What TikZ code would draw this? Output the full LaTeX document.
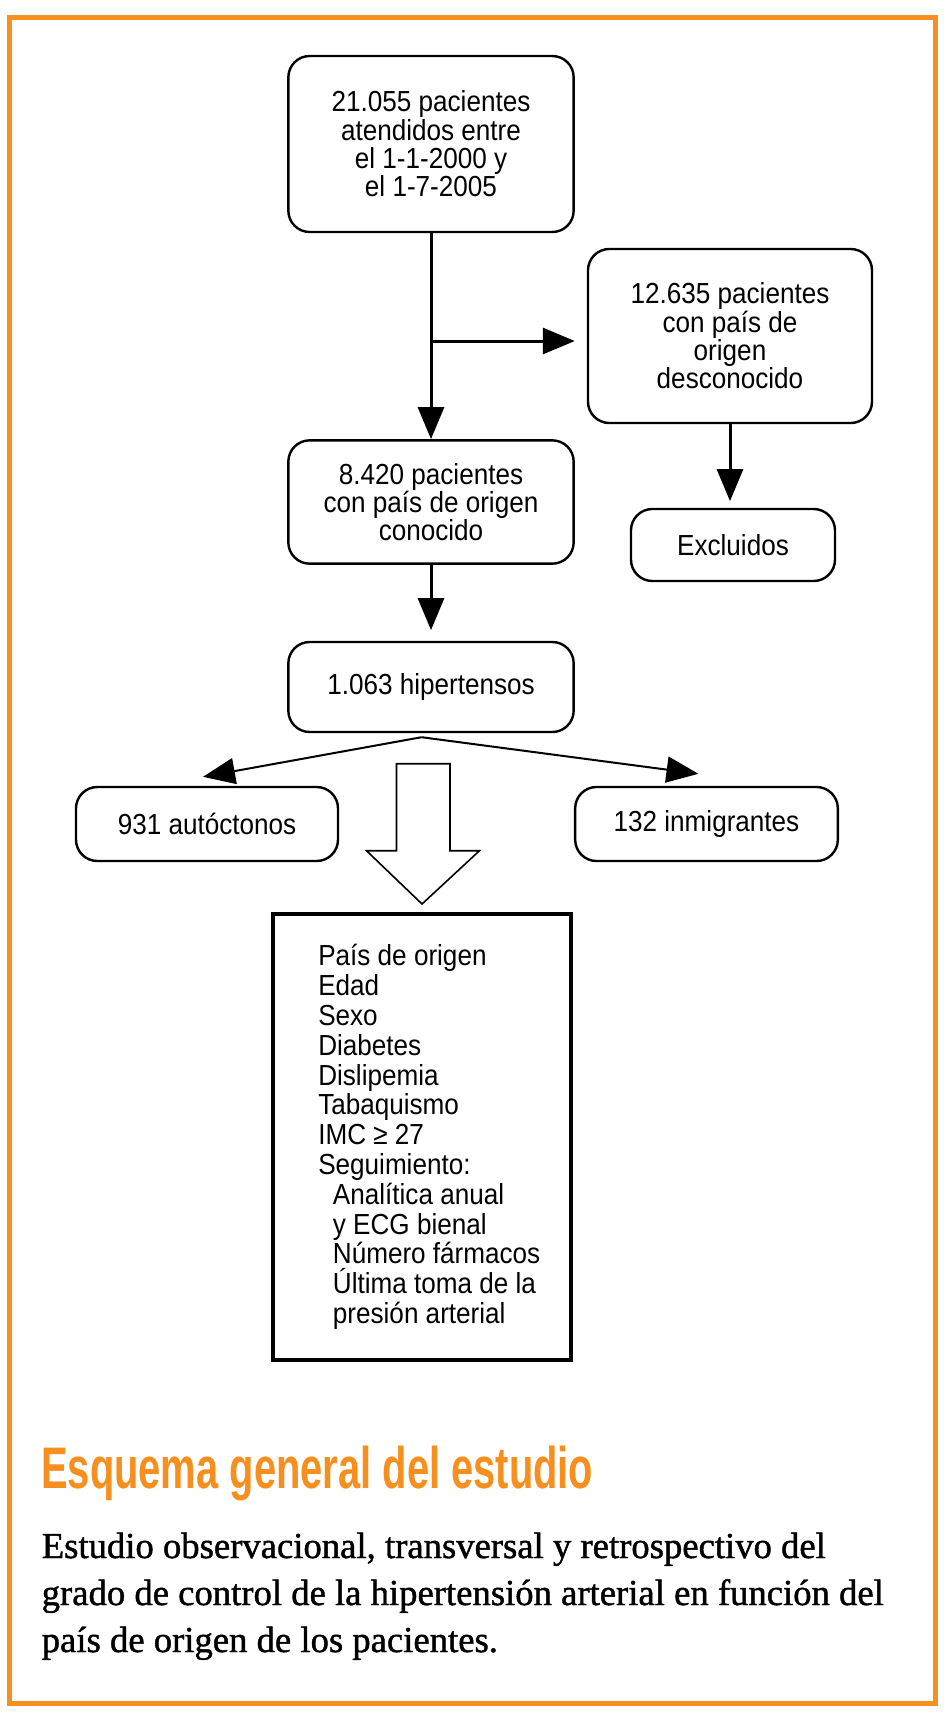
\documentclass[tikz,border=0pt]{standalone}
\usepackage{fontspec}
\setmainfont{Liberation Sans}
\newfontfamily\boxfont{Liberation Sans}[FakeStretch=0.9]
\newfontfamily\headfont{Liberation Sans}[FakeStretch=0.68]
\newfontfamily\notefont{Liberation Serif}[FakeBold=1.2]
\usetikzlibrary{arrows.meta,calc,positioning}
\definecolor{fraorange}{RGB}{247,143,30}

\begin{document}
\begin{tikzpicture}[x=0.75pt, y=-0.75pt, >={Triangle[length=24pt, width=19.5pt]},
    stage/.style={draw, line width=1.8pt, rounded corners=16pt, align=center, inner sep=0pt,
                  font=\boxfont\fontsize{21.75pt}{21.2pt}\selectfont},
    flow/.style={->, line width=2.25pt},
    split/.style={->, line width=1.5pt},
    hollow/.style={draw, fill=white, line width=1.2pt, line join=miter}]
  \useasboundingbox (0,0) rectangle (949,1714);
  \draw[fraorange, line width=3.75pt] (9.5,17.5) rectangle (935.5,1703);
  % cohort and selection
  \node[stage, minimum width=214pt, minimum height=132pt] (total) at (431,144)
       {21.055 pacientes\\ atendidos entre\\ el 1-1-2000 y\\ el 1-7-2005};
  \node[stage, minimum width=213pt, minimum height=130.5pt] (unknown) at (730,336)
       {12.635 pacientes\\ con país de\\ origen\\ desconocido};
  \node[stage, minimum width=214pt, minimum height=92.5pt] (known) at (431,502)
       {8.420 pacientes\\ con país de origen\\ conocido};
  \node[stage, minimum width=153pt, minimum height=54pt] (excl) at (733,545) {Excluidos};
  \node[stage, minimum width=214pt, minimum height=67.5pt] (hta) at (431,687) {1.063 hipertensos};
  \node[stage, minimum width=196.5pt, minimum height=55.5pt] (native) at (207,824) {931 autóctonos};
  \node[stage, minimum width=197pt, minimum height=55.5pt] (migrant) at (706.5,824) {132 inmigrantes};
  \draw[flow] (total) -- (known);
  \coordinate (branch) at (431,341);
  \draw[flow, shorten >=9pt] (branch) -- (branch -| unknown.west);
  \draw[flow, shorten >=5pt] (unknown.south) -- (unknown.south |- excl.north);
  \draw[flow, shorten >=8pt] (known) -- (hta);
  % split by origin
  \coordinate (fork) at ($(hta.south)+(-9.5,4)$);
  \draw[split] (fork) -- ($(native.north)+(-4,-9)$);
  \draw[split] (fork) -- ($(migrant.north)+(-8,-12)$);
  % variables
  \node[draw, line width=3pt, minimum width=223.5pt, minimum height=334.5pt] (vars) at (422,1137) {};
  \draw[hollow] ($(vars.north)+(0,-8)$) -- ++(-55.5,-53.3) -- ++(30,0) -- ++(0,-87)
       -- ++(53.5,0) -- ++(0,87) -- ++(29.5,0) -- cycle;
  \node[font=\boxfont\fontsize{21.75pt}{22.35pt}\selectfont, align=left, anchor=base west,
        inner sep=0pt] (varlist) at (318,1323.5)
       {País de origen\\ Edad\\ Sexo\\ Diabetes\\ Dislipemia\\ Tabaquismo\\ IMC ≥ 27\\ Seguimiento:\\
        \hspace*{11pt}Analítica anual\\ \hspace*{11pt}y ECG bienal\\ \hspace*{11pt}Número fármacos\\
        \hspace*{11pt}Última toma de la\\ \hspace*{11pt}presión arterial};
  % caption
  \node[font=\headfont\bfseries\fontsize{44pt}{44pt}\selectfont, text=fraorange, anchor=base west,
        inner sep=0pt] (title) at (41,1488) {Esquema general del estudio};
  \node[font=\notefont\fontsize{27.5pt}{35.25pt}\selectfont, align=left, anchor=base west,
        inner sep=0pt] (summary) at (41.5,1652)
       {Estudio observacional, transversal y retrospectivo del\\
        grado de control de la hipertensión arterial en función del\\
        país de origen de los pacientes.};
\end{tikzpicture}
\end{document}
